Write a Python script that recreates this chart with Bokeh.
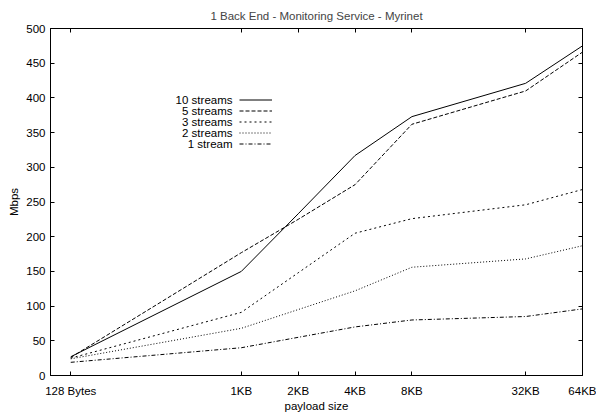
from bokeh.plotting import figure
from bokeh.models import FixedTicker, LinearAxis, LogAxis, Range1d, Legend, LegendItem, Label
from bokeh.embed import file_html
from bokeh.resources import INLINE

# ---- data ----
payload = [128, 1024, 2048, 4096, 8192, 32768, 65536]
payload_labels = ["128 Bytes", "1KB", "2KB", "4KB", "8KB", "32KB", "64KB"]
streams_10 = [27, 150, 233, 317, 373, 421, 475]
streams_5 = [26, 177, 225, 275, 362, 410, 466]
streams_3 = [25, 91, 148, 205, 226, 246, 268]
streams_2 = [24, 68, 95, 122, 156, 168, 187]
streams_1 = [19, 40, 55, 70, 80, 85, 96]
series_names = ["10 streams", "5 streams", "3 streams", "2 streams", "1 stream"]
y_ticks = [0, 50, 100, 150, 200, 250, 300, 350, 400, 450, 500]

# ---- styles ----
FONT = "Liberation Sans"
FS = "11.5px"
dashes = ["solid", "4 2", "2 3", "1 2", "4 2 1 2"]
FRAME_W = 532
FRAME_H = 347

p = figure(frame_width=FRAME_W, frame_height=FRAME_H,
           x_axis_type="log", x_range=Range1d(100, 65536), y_range=Range1d(0, 500),
           output_backend="svg", toolbar_location=None,
           min_border_left=50, min_border_right=14, min_border_top=28,
           title="1 Back End - Monitoring Service - Myrinet")
p.grid.visible = False
p.outline_line_color = "black"
p.outline_line_width = 1
p.background_fill_color = "white"
p.border_fill_color = "white"

p.title.text_font = FONT
p.title.text_font_size = FS
p.title.text_font_style = "normal"
p.title.align = "center"
p.title.vertical_align = "middle"
p.title.standoff = 12
p.title.offset = 0


def style_axis(ax):
    ax.major_tick_in = 4
    ax.major_tick_out = 0
    ax.minor_tick_line_color = None
    ax.axis_line_color = "black"
    ax.major_tick_line_color = "black"
    ax.major_label_text_font = FONT
    ax.major_label_text_font_size = FS
    ax.major_label_text_color = "black"
    ax.axis_label_text_font = FONT
    ax.axis_label_text_font_size = FS
    ax.axis_label_text_font_style = "normal"
    ax.axis_label_text_color = "black"


xa = p.xaxis[0]
xa.ticker = FixedTicker(ticks=payload)
xa.major_label_overrides = dict(zip(payload, payload_labels))
xa.axis_label = "payload size"
style_axis(xa)
xa.major_label_standoff = 9
xa.axis_label_standoff = 0

ya = p.yaxis[0]
ya.ticker = FixedTicker(ticks=y_ticks)
ya.axis_label = "Mbps"
style_axis(ya)
ya.major_label_standoff = 5
ya.axis_label_standoff = 3

# mirrored tick marks (gnuplot style) on top and right, without labels
top = LogAxis(ticker=FixedTicker(ticks=payload))
style_axis(top)
top.major_label_overrides = {t: "" for t in payload}
top.major_label_text_font_size = "1px"
top.major_label_standoff = 0
p.add_layout(top, "above")

right = LinearAxis(ticker=FixedTicker(ticks=y_ticks))
style_axis(right)
right.major_label_overrides = {t: "" for t in y_ticks}
right.major_label_text_font_size = "1px"
right.major_label_standoff = 0
p.add_layout(right, "right")

all_series = [streams_10, streams_5, streams_3, streams_2, streams_1]
renderers = []
for vals, dash in zip(all_series, dashes):
    r = p.line(payload, vals, line_color="black", line_width=1, line_dash=dash)
    renderers.append(r)

# legend: samples via Legend, right-aligned texts via Labels (gnuplot style)
LEG_BOTTOM = 226
ROW = 11
legend = Legend(items=[LegendItem(label=" ", renderers=[r]) for r in renderers],
                location=(189, LEG_BOTTOM), padding=0, margin=0, spacing=0,
                glyph_width=33, glyph_height=ROW, label_height=ROW, label_width=0,
                label_standoff=0, label_text_font_size="1px",
                border_line_color=None, background_fill_alpha=0)
p.add_layout(legend)

n = len(series_names)
for i, name in enumerate(series_names):
    yy = LEG_BOTTOM + ROW / 2 + ROW * (n - 1 - i)
    p.add_layout(Label(x=182, y=yy, x_units="screen", y_units="screen", text=name,
                       text_align="right", text_baseline="middle",
                       text_font=FONT, text_font_size=FS, text_color="black"))

open("out.html", "w").write(file_html(p, INLINE))
